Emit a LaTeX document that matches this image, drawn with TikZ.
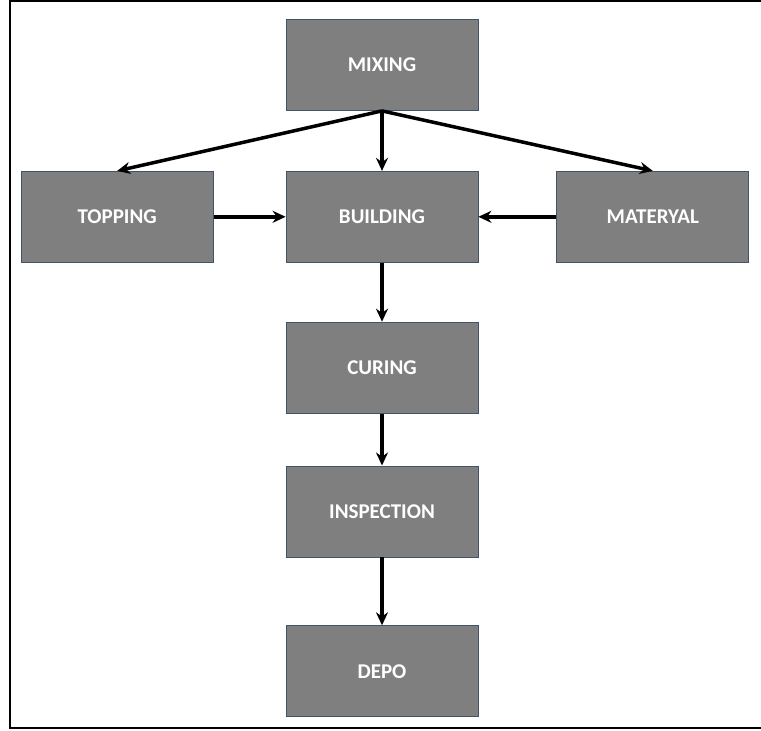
\documentclass[tikz,border=0pt]{standalone}
\usepackage{fontspec}
\setmainfont{Carlito}
\usetikzlibrary{arrows.meta,positioning}
\definecolor{boxgray}{HTML}{7F7F7F}
\definecolor{boxline}{HTML}{41546A}

\begin{document}
\begin{tikzpicture}[
    x=1pt, y=-1pt,
    node distance=60pt and 75pt,
    stepbox/.style={draw=boxline, line width=0.8pt, fill=boxgray, minimum width=192pt, minimum height=91pt,
        text=white, font=\fontsize{21}{24}\selectfont\bfseries, inner sep=0pt},
    flow/.style={-{Stealth[length=13pt,width=12pt]}, line width=3.5pt}
]
\useasboundingbox (0,0) rectangle (761,731);
\draw[line width=2.5pt] (762,1) -- (10,1) -- (10,728) -- (762,728);

\node[stepbox] (mixing) at (382,65) {MIXING};
\node[stepbox] (building) [below=of mixing] {BUILDING};
\node[stepbox] (topping) [left=72pt of building] {TOPPING};
\node[stepbox] (materyal) [right=78pt of building] {MATERYAL};
\node[stepbox] (curing) [below=59pt of building] {CURING};
\node[stepbox] (inspection) [below=52pt of curing] {INSPECTION};
\node[stepbox] (depo) [below=68pt of inspection] {DEPO};

\draw[flow] (mixing.south) -- (topping.north);
\draw[flow] (mixing.south) -- (building.north);
\draw[flow] (mixing.south) -- (materyal.north);
\draw[flow] (topping) -- (building);
\draw[flow] (materyal) -- (building);
\draw[flow] (building) -- (curing);
\draw[flow] (curing) -- (inspection);
\draw[flow] (inspection) -- (depo);
\end{tikzpicture}
\end{document}
